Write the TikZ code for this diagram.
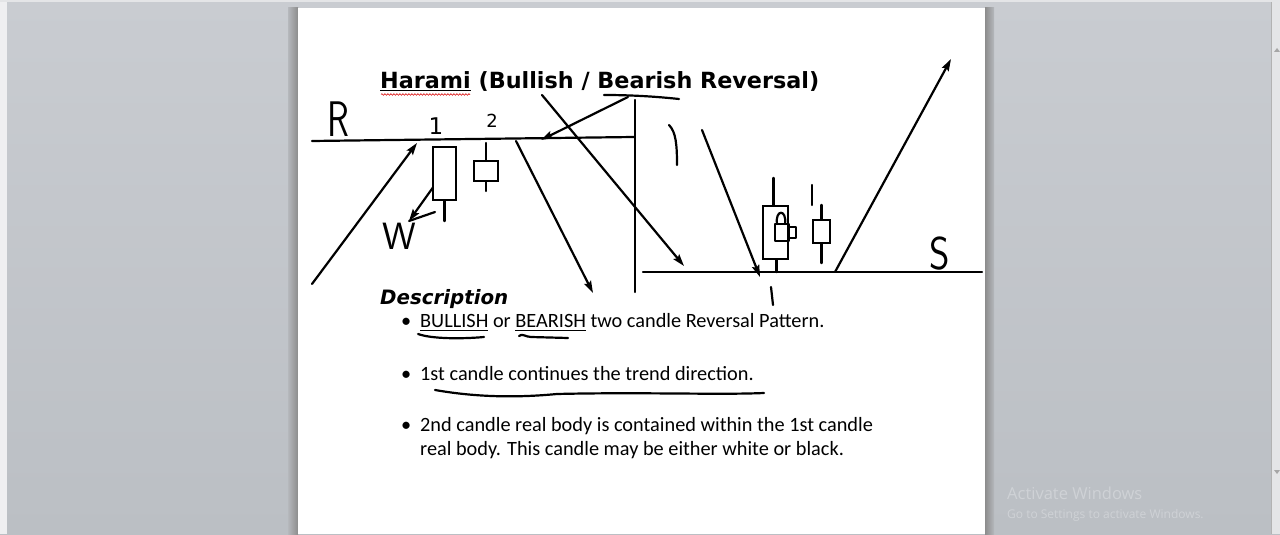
\documentclass[tikz,border=0pt]{standalone}
\usepackage{fontspec}
\usepackage{tikz}
\usetikzlibrary{arrows.meta,positioning,calc,decorations.pathmorphing}
\newfontfamily\titlefont{DejaVu Sans}
\newfontfamily\bodyfont{Carlito}
\newfontfamily\winfont{Open Sans}
\definecolor{deskTop}{HTML}{C9CCD1}
\definecolor{deskBot}{HTML}{BBBFC4}
\definecolor{markGrey}{HTML}{CFD2D6}
\definecolor{barGrey}{HTML}{E4E5E7}
\newcommand\ulined[2][1.3pt]{\setbox0\hbox{#2}\rlap{\rule[-2.4pt]{\wd0}{#1}}\box0\relax}

\begin{document}
\begin{tikzpicture}[x=1pt,y=-1pt,
  ink/.style={line width=2.2pt,line cap=round,line join=round},
  trend/.style={ink,-{Stealth[length=12pt,width=7.5pt,inset=2pt]}},
  cbody/.style={draw,line width=2.2pt,inner sep=0pt,fill=white},
  hand/.style={anchor=base west,inner sep=0pt,font=\sffamily},
  digit/.style={anchor=base,inner sep=0pt},
  bodytext/.style={anchor=base west,inner sep=0pt,font=\bodyfont\fontsize{20.3}{24}\selectfont},
  winmark/.style={anchor=base west,inner sep=0pt,text=markGrey}
]
% desktop and page
\shade[top color=deskTop,bottom color=deskBot] (0,0) rectangle (1280,534);
\fill[barGrey!60!white] (0,0) rectangle (7,534);
\fill[barGrey] (0,0) rectangle (1280,2);
\fill[barGrey] (1271,2) rectangle (1280,534);
\draw[gray!60,line width=0.6pt] (1271,2) -- (1271,534);
\fill[gray!70] (1274,52) -- (1277,48) -- (1280,52) -- cycle;
\fill[gray!70] (1274,470) -- (1277,474) -- (1280,470) -- cycle;
\shade[left color=deskTop!90!black,right color=black!45] (288,8) rectangle (298,534);
\shade[left color=black!45,right color=deskTop!90!black] (985,8) rectangle (994,534);
\fill[white] (298,8) rectangle (985,534);

% title and description
\node[anchor=base west,inner sep=0pt,font=\titlefont\bfseries\fontsize{22.3}{26}\selectfont] (title) at (380,89)
  {\ulined[1.6pt]{Harami} (Bullish / Bearish Reversal)};
\draw[red!85!black,line width=0.6pt,decorate,decoration={snake,amplitude=0.8pt,segment length=3pt}] (381,94.5) -- (470,94.5);
\node[anchor=base west,inner sep=0pt,font=\titlefont\bfseries\itshape\fontsize{19.8}{24}\selectfont] (desc) at (380,305) {Description};
\foreach \n/\yy in {1/328,2/380,3/431,4/455} \coordinate (row\n) at (420,\yy);
\foreach \n in {1,2,3}
  \node[bodytext] (dot\n) at ($(row\n)+(-19,0)$) {\textbullet};
\node[bodytext] (t1) at (row1) {\ulined[0.9pt]{BULLISH} or \ulined[0.9pt]{BEARISH} two candle Reversal Pattern.};
\node[bodytext] (t2) at (row2) {1st candle continues the trend direction.};
\node[bodytext] (t3) at (row3) {2nd candle real body is contained within the 1st candle};
\node[bodytext] (t4) at (row4) {real body. This candle may be either white or black.};

% support / resistance lines
\coordinate (rl0) at (312,141);  \coordinate (rl1) at (634,137);
\coordinate (dv0) at (635,100);  \coordinate (dv1) at (635,292);
\coordinate (sl0) at (643,272);  \coordinate (sl1) at (982,272);
\foreach \a/\b in {rl0/rl1,dv0/dv1,sl0/sl1}
  \draw[ink] (\a) -- (\b);

% trend arrows
\coordinate (up0) at (312,284);  \coordinate (up1) at (417,143);
\coordinate (dn0) at (516,141);  \coordinate (dn1) at (593,293);
\coordinate (be0) at (628,97);   \coordinate (be1) at (541,140);
\coordinate (bu0) at (542,95);   \coordinate (bu1) at (684,266);
\coordinate (fl0) at (702,130);  \coordinate (fl1) at (760,277);
\coordinate (ri0) at (835,272);  \coordinate (ri1) at (951,59);
\coordinate (ww0) at (444,172);  \coordinate (ww1) at (409,221);
\foreach \a/\b in {up0/up1,dn0/dn1,be0/be1,bu0/bu1,fl0/fl1,ri0/ri1,ww0/ww1}
  \draw[trend] (\a) -- (\b);
\draw[ink] (ww1) -- (435,212);

% candles
\node[cbody,minimum width=23pt,minimum height=53pt] (c1) at (444.5,173.5) {};
\node[cbody,minimum width=24pt,minimum height=20pt] (c2) at (486,171) {};
\node[cbody,minimum width=25pt,minimum height=53pt] (c3) at (775.5,232.5) {};
\node[cbody,minimum width=17pt,minimum height=23pt] (c4) at (821.5,231.5) {};
\draw[ink] (c1.south) -- ++(0,20);
\draw[ink] (c2.north) -- ++(0,-17);  \draw[ink] (c2.south) -- ++(0,9);
\draw[ink] (c3.north) ++(-2,0) -- ++(0,-27);  \draw[ink] (c3.south) ++(1,0) -- ++(0,12);
\draw[ink] (c4.north) -- ++(0,-14);  \draw[ink] (c4.south) -- ++(0,19);
\draw[ink] (775,224) rectangle (789,241);
\draw[ink] (789,227) -- (796,227) -- (796,238) -- (789,238);
\draw[ink] (777,224) .. controls (775,209) and (787,209) .. (785,224);

% pen marks and labels
\draw[ink] (669,125) .. controls (676,132) and (677,145) .. (677,165);
\draw[ink] (812,185) -- (812,205);
\draw[ink] (771,287) -- (773,305);
\draw[ink] (519,336) .. controls (522,333) and (526,337) .. (531,337) -- (568,338);
\draw[ink] (418,334) .. controls (432,339) and (462,339) .. (484,337);
\draw[ink] (435,390) .. controls (475,397) and (515,398) .. (557,394)
  .. controls (640,392) and (720,395) .. (764,393);
\draw[ink] (604,95) .. controls (635,95) and (660,97) .. (679,99);
\node[hand,xscale=0.72,font=\sffamily\fontsize{50}{50}\selectfont] (lblR) at (327,137) {R};
\node[digit,font=\titlefont\fontsize{23}{23}\selectfont] (lbl1) at (436,135) {1};
\node[digit,font=\titlefont\fontsize{18}{18}\selectfont] (lbl2) at (492,128) {2};
\node[hand,font=\sffamily\fontsize{38}{38}\selectfont] (lblW) at (382,250) {W};
\node[hand,xscale=0.85,font=\sffamily\fontsize{46}{46}\selectfont] (lblS) at (929,270) {S};

% watermark
\node[winmark,font=\winfont\fontsize{16.5}{20}\selectfont] (act) at (1007,499) {Activate Windows};
\node[winmark,font=\winfont\fontsize{12}{14}\selectfont] (go) at (1007,518) {Go to Settings to activate Windows.};
\end{tikzpicture}
\end{document}
